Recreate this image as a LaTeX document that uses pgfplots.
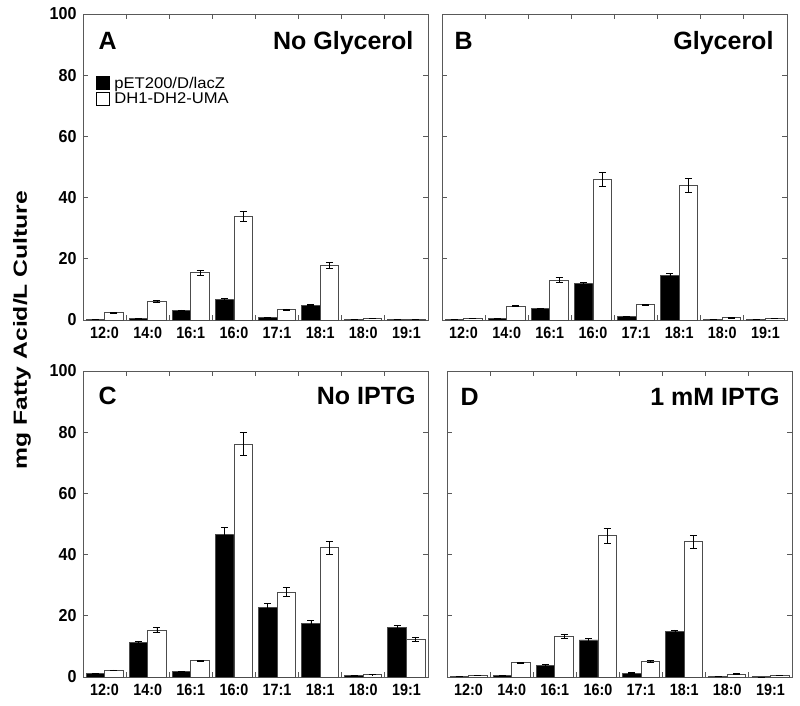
\documentclass[border=0pt]{standalone}
\usepackage{pgfplots}
\pgfplotsset{compat=1.18}
\usepackage{fontspec}
\setmainfont{Liberation Sans}

\tikzset{lbl/.style={font=\fontsize{25}{25}\selectfont\bfseries}}
\newcommand{\xl}[1]{\scalebox{0.88}[1]{#1}}

% shared look of the four panels
\pgfplotsset{
  panel/.style={
    scale only axis, width=345pt, height=306pt,
    ybar=0pt, bar width=0.43,
    xmin=-0.5, xmax=7.5, ymin=0, ymax=100,
    axis line style={black!65, line width=0.9pt},
    xtick={0,...,7},
    xticklabels={\xl{12:0},\xl{14:0},\xl{16:1},\xl{16:0},\xl{17:1},\xl{18:1},\xl{18:0},\xl{19:1}},
    minor xtick={0.5,1.5,...,6.5},
    ytick={0,20,...,100},
    tick align=inside, major tick length=5pt, minor tick length=5pt,
    tick style={black!65, line width=0.8pt},
    major x tick style={draw=none},
    xticklabel style={font=\fontsize{16.3}{16}\selectfont\bfseries, yshift=-4pt},
    yticklabel={\scalebox{0.93}[1]{\pgfmathprintnumber{\tick}}},
    yticklabel style={font=\fontsize{17.3}{17}\selectfont\bfseries, xshift=-3pt},
    /pgf/number format/assume math mode=true,
    clip=false,
  },
  errs/.style={
    error bars/y dir=both, error bars/y explicit,
    error bars/error bar style={black, line width=0.7pt},
    error bars/error mark options={rotate=90, mark size=3.5pt, black, line width=0.7pt}},
  blk/.style={errs, fill=black, draw=black!70, line width=0.8pt,
    legend image code/.code={\draw[fill=black, draw=black, line width=0.6pt] (0pt,-6.5pt) rectangle (13pt,6.5pt);}},
  wht/.style={errs, fill=white, draw=black!70, line width=0.8pt,
    legend image code/.code={\draw[fill=white, draw=black, line width=0.6pt] (0pt,-6.5pt) rectangle (13pt,6.5pt);}},
}

\begin{document}
\begin{tikzpicture}

% A
\begin{axis}[panel, at={(83pt,385pt)}, anchor=south west,
  legend style={at={(0.038,0.80)}, anchor=north west, draw=none, fill=none,
    inner sep=0pt, font=\fontsize{15.5}{17}\selectfont, row sep=0pt, column sep=3pt,
    cells={anchor=west}, nodes={inner sep=1.5pt}},
  legend cell align=left]
\addplot[blk] coordinates {(0,0.1) +- (0,0) (1,0.5) +- (0,0.1) (2,3.1) +- (0,0.2) (3,6.7) +- (0,0.3)
  (4,0.7) +- (0,0.1) (5,4.9) +- (0,0.2) (6,0.1) +- (0,0) (7,0.05) +- (0,0)};
\addplot[wht] coordinates {(0,2.4) +- (0,0.1) (1,6.0) +- (0,0.3) (2,15.5) +- (0,0.8) (3,33.8) +- (0,1.7)
  (4,3.4) +- (0,0.2) (5,17.8) +- (0,0.9) (6,0.6) +- (0,0.05) (7,0.2) +- (0,0)};
\legend{\scalebox{1.07}[1]{pET200/D/lacZ}, \scalebox{1.07}[1]{DH1-DH2-UMA}}
\node[lbl, anchor=base west] at (rel axis cs:0.035,0.885) {A};
\node[lbl, anchor=base east] at (rel axis cs:0.968,0.885) {No Glycerol};
\end{axis}

% B
\begin{axis}[panel, at={(442pt,385pt)}, anchor=south west, yticklabels={}]
\addplot[blk] coordinates {(0,0.1) +- (0,0) (1,0.5) +- (0,0.05) (2,3.7) +- (0,0.2) (3,11.8) +- (0,0.4)
  (4,1.2) +- (0,0.1) (5,14.6) +- (0,0.6) (6,0.1) +- (0,0) (7,0.05) +- (0,0)};
\addplot[wht] coordinates {(0,0.6) +- (0,0.05) (1,4.5) +- (0,0.2) (2,13.0) +- (0,0.8) (3,46.0) +- (0,2.3)
  (4,5.0) +- (0,0.2) (5,44.0) +- (0,2.2) (6,0.7) +- (0,0.05) (7,0.5) +- (0,0)};
\node[lbl, anchor=base west] at (rel axis cs:0.026,0.885) {B};
\node[lbl, anchor=base east] at (rel axis cs:0.971,0.885) {Glycerol};
\end{axis}

% C
\begin{axis}[panel, at={(83pt,28pt)}, anchor=south west]
\addplot[blk] coordinates {(0,1.1) +- (0,0.1) (1,11.3) +- (0,0.5) (2,1.8) +- (0,0.1) (3,46.6) +- (0,2.4)
  (4,22.8) +- (0,1.2) (5,17.5) +- (0,0.9) (6,0.4) +- (0,0) (7,16.2) +- (0,0.8)};
\addplot[wht] coordinates {(0,2.2) +- (0,0.1) (1,15.3) +- (0,0.8) (2,5.3) +- (0,0.2) (3,76.1) +- (0,3.8)
  (4,27.8) +- (0,1.4) (5,42.2) +- (0,2.2) (6,0.8) +- (0,0.05) (7,12.4) +- (0,0.7)};
\node[lbl, anchor=base west] at (rel axis cs:0.035,0.892) {C};
\node[lbl, anchor=base east] at (rel axis cs:0.974,0.892) {No IPTG};
\end{axis}

% D
\begin{axis}[panel, at={(447pt,28pt)}, anchor=south west, yticklabels={}]
\addplot[blk] coordinates {(0,0.1) +- (0,0) (1,0.6) +- (0,0.05) (2,3.8) +- (0,0.2) (3,12.1) +- (0,0.4)
  (4,1.3) +- (0,0.1) (5,14.8) +- (0,0.6) (6,0.1) +- (0,0) (7,0.05) +- (0,0)};
\addplot[wht] coordinates {(0,0.6) +- (0,0.05) (1,4.7) +- (0,0.2) (2,13.4) +- (0,0.7) (3,46.2) +- (0,2.4)
  (4,5.1) +- (0,0.2) (5,44.2) +- (0,2.2) (6,1.0) +- (0,0.05) (7,0.6) +- (0,0)};
\node[lbl, anchor=base west] at (rel axis cs:0.029,0.886) {D};
\node[lbl, anchor=base east] at (rel axis cs:0.974,0.886) {1 mM IPTG};
\end{axis}

\node[rotate=90, font=\fontsize{19}{19}\selectfont\bfseries] at (22pt,375pt)
  {\scalebox{1.3}[1.0]{mg Fatty Acid/L Culture}};

\pgfresetboundingbox
\path (0,0) rectangle (800pt,705pt);
\end{tikzpicture}
\end{document}
